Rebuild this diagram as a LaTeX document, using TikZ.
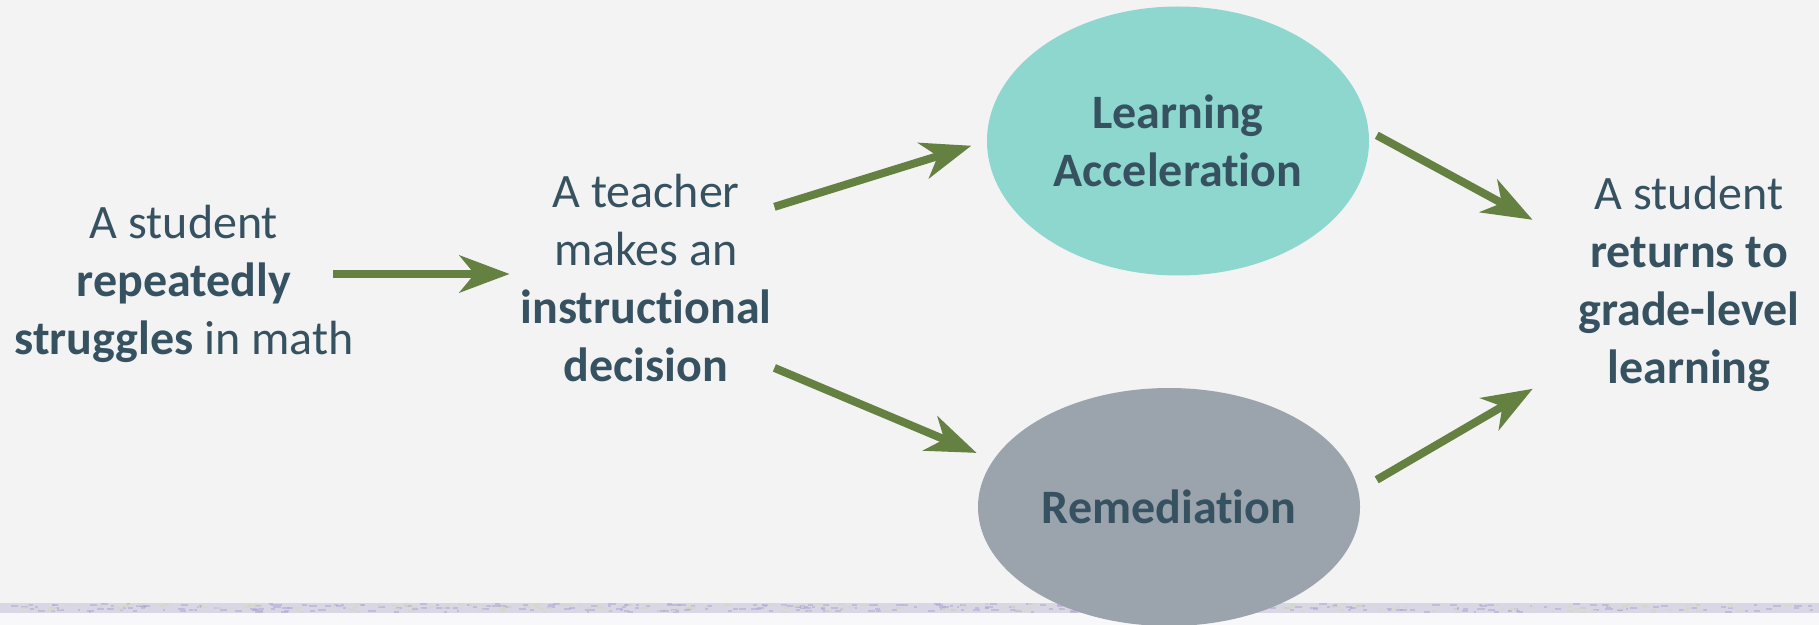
\documentclass[tikz,border=0pt]{standalone}
\usepackage{fontspec}
\setmainfont{Carlito}[Ligatures={NoCommon,NoContextual}]
\usetikzlibrary{arrows.meta,shapes.geometric,calc}

\definecolor{bgcol}{HTML}{F3F3F3}
\definecolor{inkcol}{HTML}{365261}
\definecolor{leafcol}{HTML}{658142}
\definecolor{tealcol}{HTML}{8DD7CF}
\definecolor{slatecol}{HTML}{9BA3AC}
\definecolor{bandcol}{HTML}{D9D7E4}
\definecolor{speckA}{HTML}{B3A9D8}
\definecolor{speckB}{HTML}{D3D9C6}
\definecolor{floorcol}{HTML}{F8F8FA}

\begin{document}
\begin{tikzpicture}[x=0.5pt,y=-0.5pt,
  caption/.style={align=center, inner sep=0pt, text=inkcol,
    font=\fontsize{24pt}{29pt}\selectfont},
  bubble/.style={ellipse, inner sep=0pt, draw=none, text=inkcol, align=center,
    minimum width=191pt, font=\fontsize{24pt}{29pt}\selectfont\bfseries},
  flow/.style={draw=leafcol, line width=4pt,
    -{Stealth[length=25pt,width=18.5pt,inset=7.5pt]}},
]
\useasboundingbox (0,0) rectangle (1819,625);

% page background and the textured band along the bottom
\fill[bgcol] (0,0) rectangle (1819,625);
\fill[bandcol] (0,603) rectangle (1819,613);
\fill[floorcol] (0,613) rectangle (1819,625);
\pgfmathsetseed{7}
\foreach \i in {1,...,320}{
  \fill[speckA, opacity=0.6] ({rnd*1815},{603+rnd*8}) rectangle ++({2+rnd*6},2);
}
\foreach \i in {1,...,200}{
  \fill[speckB, opacity=0.7] ({rnd*1815},{603+rnd*8}) rectangle ++({2+rnd*6},2);
}

% text blocks
\node[caption] (start) at (184,284)
  {A student\\\textbf{repeatedly}\\\textbf{struggles} in math};
\node[caption, minimum width=128pt, minimum height=100pt] (choice) at (646,278)
  {A teacher\\makes an\\\textbf{instructional}\\\textbf{decision}};
\node[caption, minimum width=149pt, minimum height=115pt] (goal) at (1689,284)
  {A student\\\textbf{returns to}\\\textbf{grade-level}\\\textbf{learning}};

% the two paths
\node[bubble, fill=tealcol, minimum height=134.5pt] (accel) at (1178,141)
  {Learning\\Acceleration};
\node[bubble, fill=slatecol, minimum height=119pt] (remed) at (1169,507)
  {Remediation};

% connectors
\coordinate (startout) at (333,274);
\draw[flow, shorten >=4pt] (startout) -- (startout -| choice.west);
\draw[flow, shorten >=8pt] (choice.29) -- (accel.west);
\draw[flow, shorten >=9pt] (choice.-35) -- (remed.165);
\draw[flow, shorten <=4.5pt, shorten >=4pt] (accel.3) -- (goal.158.5);
\draw[flow, shorten <=10.5pt, shorten >=4pt] (remed.5) -- (goal.214.9);
\end{tikzpicture}
\end{document}
